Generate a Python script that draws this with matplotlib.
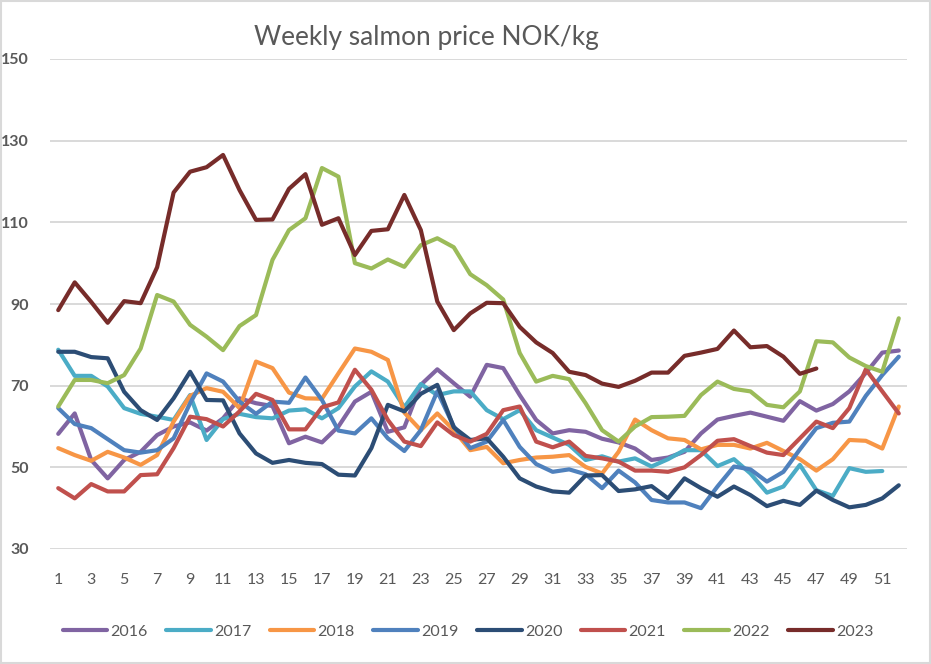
import numpy as np
import matplotlib
matplotlib.use("Agg")
import matplotlib.pyplot as plt
from matplotlib.patches import Rectangle

plt.rcParams['font.family'] = ['Lato', 'DejaVu Sans']

weeks = list(range(1, 53))

# weekly prices (NOK/kg)
p2016 = [58.2, 63.2, 51.8, 47.3, 51.8, 53.8, 57.9, 60.0, 61.0, 59.0,
         62.0, 66.9, 65.7, 65.0, 55.9, 57.5, 56.1, 60.0, 66.1, 68.5,
         58.7, 59.8, 70.2, 74.0, 70.6, 67.3, 75.1, 74.3, 67.7, 61.6,
         58.3, 59.1, 58.7, 57.0, 56.1, 54.6, 51.8, 52.4, 53.8, 58.3,
         61.7, 62.6, 63.4, 62.4, 61.4, 66.2, 63.9, 65.5, 68.6, 73.1,
         78.1, 78.6]
p2017 = [78.8, 72.4, 72.4, 69.8, 64.5, 63.1, 62.4, 61.6, 67.7, 56.7,
         61.8, 63.1, 62.3, 62.0, 63.9, 64.2, 62.0, 64.5, 69.8, 73.5,
         71.0, 64.7, 70.4, 67.7, 68.6, 68.6, 64.0, 61.8, 64.0, 59.1,
         57.3, 55.5, 51.8, 52.7, 51.4, 52.2, 50.2, 52.0, 54.2, 54.2,
         50.3, 52.0, 48.5, 43.8, 45.3, 50.6, 44.4, 43.0, 49.8, 48.9,
         49.1, None]
p2018 = [54.7, 53.0, 51.6, 53.8, 52.4, 50.6, 53.0, 61.2, 67.5, 69.4,
         68.5, 64.5, 75.9, 74.3, 68.3, 66.9, 66.8, 73.0, 79.1, 78.3,
         76.3, 63.4, 59.1, 63.2, 59.1, 54.2, 55.0, 51.0, 51.8, 52.4,
         52.6, 53.0, 50.1, 48.5, 53.8, 61.7, 59.1, 57.1, 56.7, 54.4,
         55.5, 55.5, 54.6, 56.0, 54.0, 52.0, 49.2, 52.0, 56.7, 56.5,
         54.6, 64.9]
p2019 = [64.5, 60.6, 59.6, 56.9, 54.2, 53.6, 54.2, 57.1, 65.7, 73.0,
         71.0, 66.1, 63.1, 66.1, 65.8, 72.0, 66.5, 59.0, 58.3, 62.0,
         57.1, 54.0, 59.1, 68.6, 60.0, 54.7, 56.3, 61.6, 55.0, 50.8,
         48.9, 49.5, 48.3, 44.9, 49.2, 46.3, 42.0, 41.4, 41.4, 40.0,
         45.3, 50.2, 49.5, 46.5, 48.9, 54.4, 59.6, 60.9, 61.2, 67.5,
         72.6, 77.1]
p2020 = [78.3, 78.3, 77.0, 76.7, 68.5, 64.0, 61.6, 66.9, 73.4, 66.5,
         66.4, 58.3, 53.4, 51.1, 51.8, 51.1, 50.8, 48.2, 48.0, 54.7,
         65.3, 63.7, 68.0, 70.2, 59.8, 56.7, 57.1, 52.6, 47.3, 45.3,
         44.1, 43.8, 48.0, 48.1, 44.2, 44.6, 45.4, 42.4, 47.3, 44.9,
         42.8, 45.3, 43.2, 40.5, 41.8, 40.8, 44.3, 42.0, 40.2, 40.8,
         42.4, 45.6]
p2021 = [44.9, 42.4, 45.9, 44.1, 44.1, 48.1, 48.3, 54.7, 62.4, 61.8,
         60.0, 63.7, 68.0, 66.5, 59.3, 59.3, 64.7, 65.9, 73.9, 69.0,
         61.6, 56.3, 55.2, 61.0, 57.9, 56.3, 58.2, 64.0, 64.9, 56.3,
         54.9, 56.3, 52.8, 52.2, 51.4, 49.2, 49.2, 48.9, 50.0, 53.0,
         56.5, 56.9, 55.2, 53.6, 53.0, 57.1, 61.2, 59.6, 64.5, 74.0,
         68.6, 63.2]
p2022 = [64.9, 71.4, 71.4, 70.6, 72.6, 79.1, 92.2, 90.6, 84.9, 82.0,
         78.7, 84.6, 87.3, 100.8, 108.1, 111.0, 123.3, 121.2, 100.0, 98.7,
         100.9, 99.1, 104.4, 106.1, 103.9, 97.3, 94.6, 91.1, 78.0, 71.0,
         72.4, 71.6, 65.7, 59.1, 56.3, 60.0, 62.3, 62.4, 62.6, 67.7,
         71.0, 69.2, 68.6, 65.3, 64.7, 68.6, 80.9, 80.6, 76.9, 74.8,
         73.4, 86.5]
p2023 = [88.5, 95.3, 90.5, 85.4, 90.7, 90.2, 99.0, 117.3, 122.4, 123.5,
         126.5, 117.9, 110.6, 110.7, 118.2, 121.8, 109.4, 111.0, 102.0, 107.9,
         108.3, 116.7, 108.1, 90.6, 83.6, 87.7, 90.3, 90.2, 84.4, 80.6,
         78.0, 73.4, 72.6, 70.5, 69.7, 71.2, 73.2, 73.2, 77.3, 78.1,
         79.0, 83.5, 79.4, 79.7, 77.1, 72.9, 74.2]

years = ['2016', '2017', '2018', '2019', '2020', '2021', '2022', '2023']
series = [p2016, p2017, p2018, p2019, p2020, p2021, p2022, p2023]
colors = ['#8064A2', '#4BACC6', '#F79646', '#4F81BD',
          '#2C4D75', '#C0504D', '#9BBB59', '#772C2A']

fig = plt.figure(figsize=(9.31, 6.64), dpi=100)
ax = fig.add_axes([50 / 931, 1 - 549 / 664, 857 / 931, 490 / 664])

for name, vals, color in zip(years, series, colors):
    y = np.array([np.nan if v is None else v for v in vals], dtype=float)
    ax.plot(weeks[:len(y)], y, color=color, lw=3.0, label=name,
            solid_joinstyle='round', solid_capstyle='round')

ax.set_xlim(0.5, 52.5)
ax.set_ylim(30, 150)
ax.set_yticks(range(30, 151, 20))
ax.set_xticks(range(1, 52, 2))
ax.grid(True, axis='y', color='#D9D9D9', lw=1.4)
ax.set_axisbelow(True)
for s in ax.spines.values():
    s.set_visible(False)
ax.tick_params(axis='both', length=0)
ax.tick_params(axis='x', pad=17, labelsize=11.5, labelcolor='#595959')
ax.tick_params(axis='y', pad=15, labelsize=11.5, labelcolor='#595959')
for t in ax.get_yticklabels():
    t.set_fontweight('bold')

fig.text(426 / 931, 1 - 38 / 664, 'Weekly salmon price NOK/kg',
         ha='center', va='center', fontsize=18.9, color='#595959')

fig.legend(loc='center', bbox_to_anchor=(468 / 931, 1 - 632 / 664), ncol=8,
           frameon=False, fontsize=11.5, handlelength=2.8, handletextpad=0.2,
           columnspacing=1.15, labelcolor='#595959')

# light chart-area border
fig.patches.append(Rectangle((0.001, 0.001), 0.998, 0.997, transform=fig.transFigure,
                             fill=False, edgecolor='#D9D9D9', lw=1.5))

fig.savefig('out.png', dpi=100)
